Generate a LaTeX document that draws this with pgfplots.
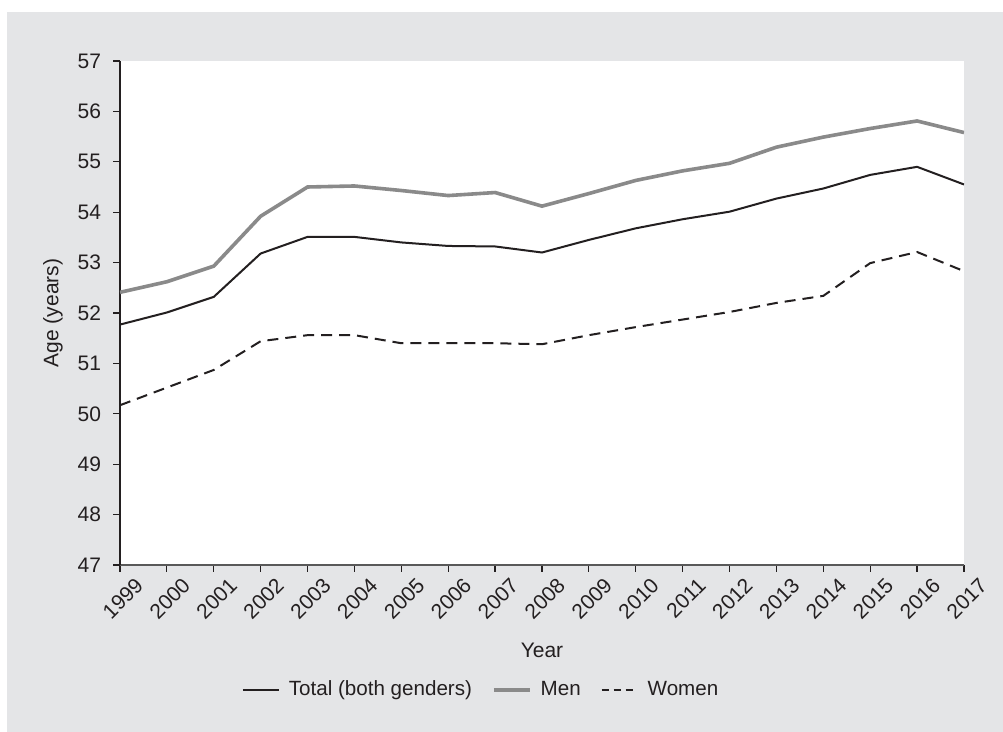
\documentclass[border=0pt]{standalone}
\usepackage{pgfplots}
\pgfplotsset{compat=1.18}
\usepackage{fontspec}
\setmainfont{Liberation Sans}

\definecolor{panel}{HTML}{E4E5E7}
\definecolor{ink}{HTML}{231F20}
\definecolor{mengray}{HTML}{8A8A8A}

\begin{document}
\begin{tikzpicture}
% outer white margin and grey panel (1px = 0.5pt)
\fill[white] (-60pt,-83.5pt) rectangle (441.5pt,282.5pt);
\fill[panel] (-56.5pt,-83.5pt) rectangle (441.5pt,276.5pt);
\begin{axis}[
    at={(0,0)}, anchor=south west,
    scale only axis,
    width=422pt, height=252pt,
    xmin=1999, xmax=2017,
    ymin=47, ymax=57,
    xtick={1999,...,2017},
    ytick={47,...,57},
    axis lines=left,
    axis line style={-},
    x axis line style={draw=black!65, line width=1pt},
    y axis line style={draw=ink, line width=0.8pt},
    tick align=outside,
    major tick length=3.5pt,
    tick style={draw=ink, line width=0.6pt},
    axis background/.style={fill=white},
    /pgf/number format/assume math mode=true,
    /pgf/number format/set thousands separator={},
    font=\fontsize{10}{12}\selectfont,
    tick label style={text=ink, font=\fontsize{10.5}{12}\selectfont},
    yticklabel style={xshift=-2.5pt},
    xticklabel style={rotate=45, anchor=north east, inner sep=1pt, xshift=4.5pt, yshift=-5.5pt},
    xlabel={Year},
    ylabel={Age (years)},
    label style={text=ink, font=\fontsize{10.5}{12}\selectfont},
    xlabel style={at={(axis description cs:0.5,0)}, anchor=center, yshift=-42.5pt},
    ylabel style={at={(axis description cs:-0.0794,0.5)}, anchor=center},
    legend style={at={(0.429,-0.248)}, anchor=center, draw=none, fill=none,
        legend columns=3, font=\fontsize{10.3}{12}\selectfont, text=ink,
        /tikz/every odd column/.append style={column sep=2.5pt},
        /tikz/every even column/.append style={column sep=8pt}},
    legend cell align=left,
    legend image code/.code={\draw[#1] (0pt,0pt) -- (18pt,0pt);},
]
\addplot[ink, line width=1pt] coordinates {
  (1999,51.77) (2000,52.01) (2001,52.32) (2002,53.18) (2003,53.51)
  (2004,53.51) (2005,53.40) (2006,53.33) (2007,53.32) (2008,53.20)
  (2009,53.45) (2010,53.68) (2011,53.86) (2012,54.01) (2013,54.27)
  (2014,54.47) (2015,54.74) (2016,54.90) (2017,54.55)
};
\addplot[mengray, line width=1.8pt] coordinates {
  (1999,52.41) (2000,52.62) (2001,52.93) (2002,53.92) (2003,54.50)
  (2004,54.52) (2005,54.43) (2006,54.33) (2007,54.39) (2008,54.12)
  (2009,54.37) (2010,54.63) (2011,54.82) (2012,54.97) (2013,55.29)
  (2014,55.49) (2015,55.66) (2016,55.81) (2017,55.58)
};
\addplot[ink, line width=1pt, dash pattern=on 5.5pt off 3.5pt,
    legend image code/.code={\draw[ink, line width=1pt, dash pattern=on 3.5pt off 2.5pt] (0pt,0pt) -- (18pt,0pt);}] coordinates {
  (1999,50.17) (2000,50.52) (2001,50.87) (2002,51.44) (2003,51.56)
  (2004,51.56) (2005,51.40) (2006,51.40) (2007,51.40) (2008,51.38)
  (2009,51.56) (2010,51.72) (2011,51.87) (2012,52.02) (2013,52.20)
  (2014,52.34) (2015,52.99) (2016,53.21) (2017,52.83)
};
\legend{Total (both genders), Men, Women}
\end{axis}
\end{tikzpicture}
\end{document}
